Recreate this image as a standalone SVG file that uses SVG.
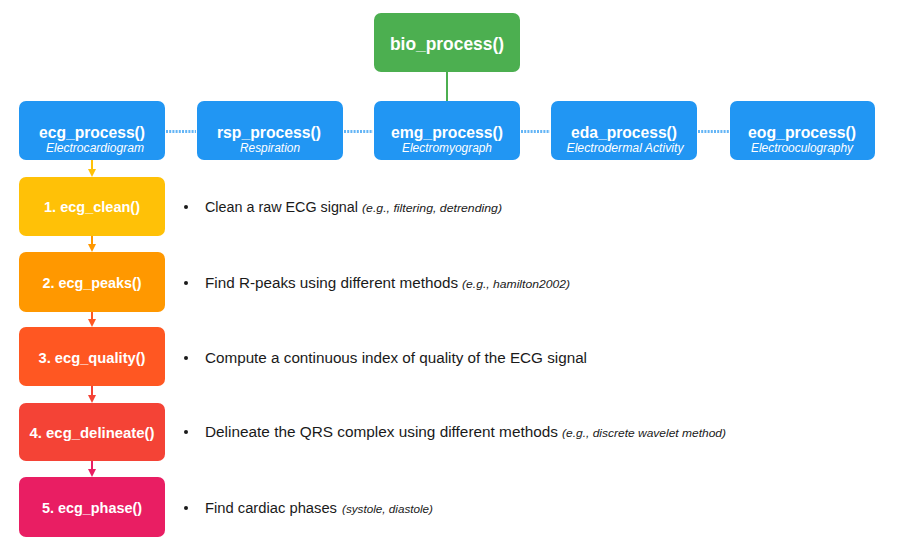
<svg xmlns="http://www.w3.org/2000/svg" width="917" height="551" viewBox="0 0 917 551">
<style>
.t{font-family:"Liberation Sans",Arial,sans-serif;font-weight:bold;fill:#fff;text-anchor:middle}
.s{font-family:"Liberation Sans",Arial,sans-serif;font-style:italic;fill:#fff;text-anchor:middle;font-size:12px}
.b{font-family:"Liberation Sans",Arial,sans-serif;fill:#1a1a1a;font-size:15.5px}
.i{font-family:"Liberation Sans",Arial,sans-serif;fill:#1a1a1a;font-size:11.5px;font-style:italic}
.dot{stroke:#64b5f6;stroke-width:3;stroke-dasharray:2 1.2;fill:none}
</style>
<defs>
<marker id="a1" markerWidth="8" markerHeight="8" refX="4" refY="4" orient="auto" markerUnits="userSpaceOnUse"><path d="M0,0 L8,4 L0,8 z" fill="#ffc107"/></marker>
<marker id="a2" markerWidth="8" markerHeight="8" refX="4" refY="4" orient="auto" markerUnits="userSpaceOnUse"><path d="M0,0 L8,4 L0,8 z" fill="#ff9800"/></marker>
<marker id="a3" markerWidth="8" markerHeight="8" refX="4" refY="4" orient="auto" markerUnits="userSpaceOnUse"><path d="M0,0 L8,4 L0,8 z" fill="#ff5722"/></marker>
<marker id="a4" markerWidth="8" markerHeight="8" refX="4" refY="4" orient="auto" markerUnits="userSpaceOnUse"><path d="M0,0 L8,4 L0,8 z" fill="#f44336"/></marker>
<marker id="a5" markerWidth="8" markerHeight="8" refX="4" refY="4" orient="auto" markerUnits="userSpaceOnUse"><path d="M0,0 L8,4 L0,8 z" fill="#e91e63"/></marker>
</defs>
<rect width="917" height="551" fill="#fff"/>
<g id="connectors">
<line x1="447" y1="72" x2="447" y2="101" stroke="#4caf50" stroke-width="2"/>
<line class="dot" x1="166" y1="131.5" x2="196" y2="131.5"/>
<line class="dot" x1="344" y1="131.5" x2="373" y2="131.5"/>
<line class="dot" x1="521" y1="131.5" x2="550" y2="131.5"/>
<line class="dot" x1="698" y1="131.5" x2="729" y2="131.5"/>
<line x1="92" y1="160" x2="92" y2="173" stroke="#ffc107" stroke-width="2" marker-end="url(#a1)"/>
<line x1="92" y1="236" x2="92" y2="248" stroke="#ff9800" stroke-width="2" marker-end="url(#a2)"/>
<line x1="92" y1="312" x2="92" y2="323" stroke="#ff5722" stroke-width="2" marker-end="url(#a3)"/>
<line x1="92" y1="386" x2="92" y2="399" stroke="#f44336" stroke-width="2" marker-end="url(#a4)"/>
<line x1="92" y1="461" x2="92" y2="473" stroke="#e91e63" stroke-width="2" marker-end="url(#a5)"/>
</g>
<g id="bio_process"><rect x="374" y="13" width="146" height="59" rx="7" fill="#4caf50"/><text class="t" x="447" y="50" font-size="19" textLength="114" lengthAdjust="spacingAndGlyphs">bio_process()</text></g>
<g id="ecg_process"><rect x="19" y="101" width="146" height="59" rx="7" fill="#2196f3"/><text class="t" x="92" y="138" font-size="17" textLength="106" lengthAdjust="spacingAndGlyphs">ecg_process()</text><text class="s" x="95" y="152" textLength="98" lengthAdjust="spacingAndGlyphs">Electrocardiogram</text></g>
<g id="rsp_process"><rect x="197" y="101" width="146" height="59" rx="7" fill="#2196f3"/><text class="t" x="269" y="138" font-size="17" textLength="104" lengthAdjust="spacingAndGlyphs">rsp_process()</text><text class="s" x="270" y="152" textLength="60" lengthAdjust="spacingAndGlyphs">Respiration</text></g>
<g id="emg_process"><rect x="374" y="101" width="146" height="59" rx="7" fill="#2196f3"/><text class="t" x="447" y="138" font-size="17" textLength="112" lengthAdjust="spacingAndGlyphs">emg_process()</text><text class="s" x="447" y="152" textLength="90" lengthAdjust="spacingAndGlyphs">Electromyograph</text></g>
<g id="eda_process"><rect x="551" y="101" width="146" height="59" rx="7" fill="#2196f3"/><text class="t" x="624" y="138" font-size="17" textLength="106" lengthAdjust="spacingAndGlyphs">eda_process()</text><text class="s" x="625" y="152" textLength="117" lengthAdjust="spacingAndGlyphs">Electrodermal Activity</text></g>
<g id="eog_process"><rect x="730" y="101" width="145" height="59" rx="7" fill="#2196f3"/><text class="t" x="802" y="138" font-size="17" textLength="108" lengthAdjust="spacingAndGlyphs">eog_process()</text><text class="s" x="802" y="152" textLength="102" lengthAdjust="spacingAndGlyphs">Electrooculography</text></g>
<g id="ecg_clean"><rect x="19" y="177" width="146" height="59" rx="7" fill="#ffc107"/><text class="t" x="92" y="212" font-size="15" textLength="96" lengthAdjust="spacingAndGlyphs">1. ecg_clean()</text></g>
<g id="ecg_peaks"><rect x="19" y="252" width="146" height="60" rx="7" fill="#ff9800"/><text class="t" x="92" y="288" font-size="15" textLength="99" lengthAdjust="spacingAndGlyphs">2. ecg_peaks()</text></g>
<g id="ecg_quality"><rect x="19" y="327" width="146" height="59" rx="7" fill="#ff5722"/><text class="t" x="92" y="363" font-size="15" textLength="107" lengthAdjust="spacingAndGlyphs">3. ecg_quality()</text></g>
<g id="ecg_delineate"><rect x="19" y="403" width="146" height="58" rx="7" fill="#f44336"/><text class="t" x="92" y="438" font-size="15" textLength="125" lengthAdjust="spacingAndGlyphs">4. ecg_delineate()</text></g>
<g id="ecg_phase"><rect x="19" y="477" width="146" height="60" rx="7" fill="#e91e63"/><text class="t" x="92" y="513" font-size="15" textLength="100" lengthAdjust="spacingAndGlyphs">5. ecg_phase()</text></g>
<g id="descriptions">
<circle cx="186" cy="207" r="2" fill="#1a1a1a"/>
<text class="b" x="205" y="212" textLength="153" lengthAdjust="spacingAndGlyphs">Clean a raw ECG signal</text>
<text class="i" x="362" y="212" textLength="140" lengthAdjust="spacingAndGlyphs">(e.g., filtering, detrending)</text>
<circle cx="186" cy="283" r="2" fill="#1a1a1a"/>
<text class="b" x="205" y="288" textLength="253" lengthAdjust="spacingAndGlyphs">Find R-peaks using different methods</text>
<text class="i" x="462" y="288" textLength="108" lengthAdjust="spacingAndGlyphs">(e.g., hamilton2002)</text>
<circle cx="186" cy="358" r="2" fill="#1a1a1a"/>
<text class="b" x="205" y="363" textLength="382" lengthAdjust="spacingAndGlyphs">Compute a continuous index of quality of the ECG signal</text>
<circle cx="186" cy="432" r="2" fill="#1a1a1a"/>
<text class="b" x="205" y="437" textLength="353" lengthAdjust="spacingAndGlyphs">Delineate the QRS complex using different methods</text>
<text class="i" x="562" y="437" textLength="164" lengthAdjust="spacingAndGlyphs">(e.g., discrete wavelet method)</text>
<circle cx="186" cy="508" r="2" fill="#1a1a1a"/>
<text class="b" x="205" y="513" textLength="132" lengthAdjust="spacingAndGlyphs">Find cardiac phases</text>
<text class="i" x="342" y="513" textLength="91" lengthAdjust="spacingAndGlyphs">(systole, diastole)</text>
</g>
</svg>
